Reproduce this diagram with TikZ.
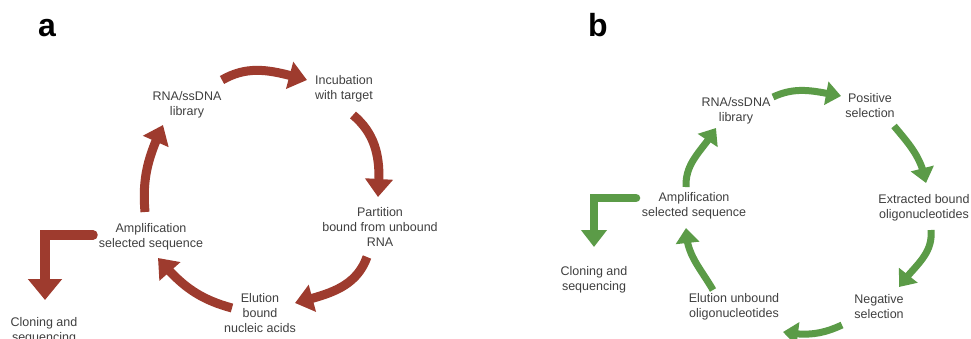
\documentclass[tikz,border=0pt]{standalone}
\usepackage{fontspec}
\setmainfont{Liberation Sans}
\usetikzlibrary{arrows.meta,bending}
\definecolor{selexred}{HTML}{9E3B2E}
\definecolor{selexgreen}{HTML}{5B9B47}
\definecolor{txtgray}{HTML}{404040}

\begin{document}
\begin{tikzpicture}[x=1pt,y=1pt,
  lbl/.style={font=\fontsize{12.5}{15}\selectfont,text=txtgray,align=center,anchor=center,inner sep=1pt},
  panel/.style={font=\fontsize{32}{36}\selectfont\bfseries,text=black,anchor=base},
  redarr/.style={draw=selexred,line width=9pt,-{Triangle[width=27pt,length=18pt]}},
  redturn/.style={draw=selexred,line width=9.5pt,line cap=round,-{Triangle[width=33pt,length=21pt]}},
  greenarr/.style={draw=selexgreen,line width=7pt,-{Triangle[width=23pt,length=15pt]}},
  greenturn/.style={draw=selexgreen,line width=8.5pt,line cap=round,-{Triangle[width=25pt,length=17pt]}}]
\clip (0,0) rectangle (971,338);
\fill[white] (0,0) rectangle (971,338);

% panel a
\node[panel] (alab) at (47,301) {a};
\node[lbl] (alib) at (187,233.5) {RNA/ssDNA\\library};
\node[lbl] (ainc) at (344,249.5) {Incubation\\with target};
\node[lbl] (apart) at (380,111.5) {Partition\\bound from unbound\\RNA};
\node[lbl] (aelu) at (260,25) {Elution\\bound\\nucleic acids};
\node[lbl] (aamp) at (151,101.5) {Amplification\\selected sequence};
\node[lbl] (aclo) at (44,7.5) {Cloning and\\sequencing};

\coordinate (a1s) at (222,258); \coordinate (a1e) at (307,258);
\coordinate (a2s) at (353,223); \coordinate (a2e) at (378,141);
\coordinate (a3s) at (367,81);  \coordinate (a3e) at (295,35);
\coordinate (a4s) at (232,30);  \coordinate (a4e) at (158,80);
\coordinate (a5s) at (145,126); \coordinate (a5e) at (163,213);
\coordinate (aLs) at (93,103);  \coordinate (aLc) at (45,103); \coordinate (aLe) at (45,38);

\draw[redarr] (a1s) to[out=30,in=165] (a1e);
\draw[redarr] (a2s) to[out=-40,in=85] (a2e);
\draw[redarr] (a3s) to[out=-110,in=15] (a3e);
\draw[redarr] (a4s) to[out=165,in=-50] (a4e);
\draw[redarr] (a5s) to[out=95,in=-115] (a5e);
\draw[redturn] (aLs) -- (aLc) -- (aLe);

% panel b
\node[panel] (blab) at (598,301) {b};
\node[lbl] (blib) at (736,227.5) {RNA/ssDNA\\library};
\node[lbl] (bpos) at (870,232) {Positive\\selection};
\node[lbl] (bext) at (924,130) {Extracted bound\\oligonucleotides};
\node[lbl] (bneg) at (879,31) {Negative\\selection};
\node[lbl] (belu) at (734,31) {Elution unbound\\oligonucleotides};
\node[lbl] (bamp) at (694,132) {Amplification\\selected sequence};
\node[lbl] (bclo) at (594,58) {Cloning and\\sequencing};

\coordinate (b1s) at (773,241); \coordinate (b1e) at (841,242);
\coordinate (b2s) at (894,212); \coordinate (b2e) at (926,155);
\coordinate (b3s) at (931,108); \coordinate (b3e) at (899,51);
\coordinate (b4s) at (842,13);  \coordinate (b4e) at (783,6);
\coordinate (b5s) at (713,48);  \coordinate (b5e) at (686,110);
\coordinate (b6s) at (686,151); \coordinate (b6e) at (716,210);
\coordinate (bLs) at (636,140); \coordinate (bLc) at (594,140); \coordinate (bLe) at (594,91);

\draw[greenarr] (b1s) to[out=25,in=170] (b1e);
\draw[greenarr] (b2s) to[out=-50,in=100] (b2e);
\draw[greenarr] (b3s) to[out=-85,in=55] (b3e);
\draw[greenarr] (b4s) to[out=-155,in=-10] (b4e);
\draw[greenarr] (b5s) to[out=120,in=-90] (b5e);
\draw[greenarr] (b6s) to[out=92,in=-120] (b6e);
\draw[greenturn] (bLs) -- (bLc) -- (bLe);

\end{tikzpicture}
\end{document}
